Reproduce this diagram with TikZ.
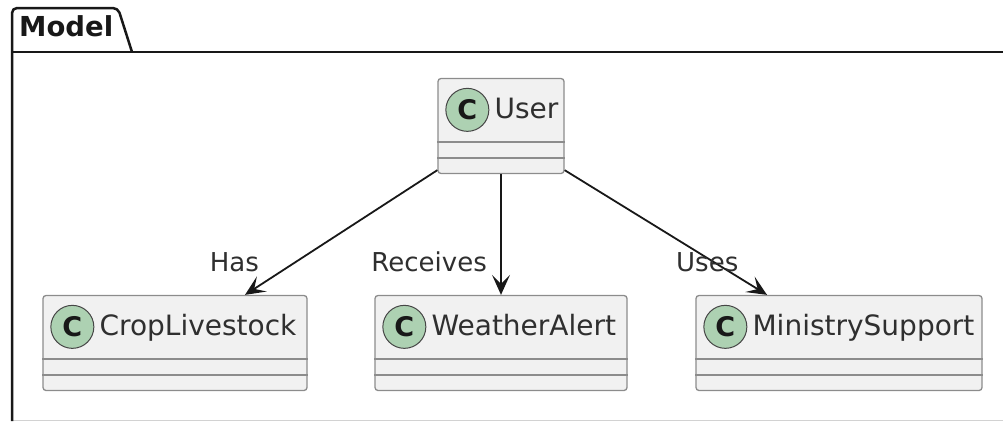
\documentclass[tikz,border=0pt]{standalone}
\usepackage{fontspec}
\setmainfont{DejaVu Sans}
\usetikzlibrary{arrows.meta,calc}
\definecolor{boxfill}{HTML}{F1F1F1}
\definecolor{boxline}{HTML}{8C8C8C}
\definecolor{cfill}{HTML}{ADD1B2}
\definecolor{ink}{HTML}{181818}
\tikzset{
  frame/.style={draw=ink, line width=2.5pt},
  classbox/.style={draw=boxline, fill=boxfill, line width=1.3pt, rounded corners=3pt, minimum height=95pt, inner sep=0pt},
  sepline/.style={draw=boxline, line width=1.3pt},
  spot/.style={circle, draw=ink!80, fill=cfill, line width=1pt, minimum size=43pt, inner sep=0pt, font=\bfseries\fontsize{27}{30}\selectfont, text=ink},
  cname/.style={anchor=base west, inner sep=0pt, text=ink!90, font=\fontsize{28}{32}\selectfont},
  lbl/.style={inner sep=0pt, text=ink!90, font=\fontsize{26}{30}\selectfont},
  arr/.style={draw=ink, line width=1.8pt, -{Stealth[length=20pt,width=18pt,inset=9pt]}}
}
\newcommand{\umlclass}[4]{%
  \node[classbox, minimum width=#3] (#1) at (#2) {};
  \draw[sepline] ($(#1.north west)+(0,64)$) -- ($(#1.north east)+(0,64)$);
  \draw[sepline] ($(#1.north west)+(0,80)$) -- ($(#1.north east)+(0,80)$);
  \node[spot] (#1-c) at ($(#1.north west)+(30,32)$) {C};
  \node[cname] (#1-t) at ($(#1.north west)+(57,41)$) {#4};
}
\begin{document}
\begin{tikzpicture}[x=1pt,y=-1pt]
\useasboundingbox (0,0) rectangle (1003,421);
% package frame
\draw[gray!35, line width=1pt] (12,420) -- (1003,420);
\draw[frame] (12,52) -- (1003,52);
\draw[frame, rounded corners=5pt] (12,421) -- (12,8) -- (118,8) -- (132,52);
\node[anchor=base west, inner sep=0pt, text=ink, font=\bfseries\fontsize{27.5}{30}\selectfont] (pkg) at (19,36) {Model};
% classes
\umlclass{user}{501,126}{126pt}{User}
\umlclass{crop}{175,343}{264pt}{CropLivestock}
\umlclass{weather}{501,343}{252pt}{WeatherAlert}
\umlclass{ministry}{839,343}{286pt}{MinistrySupport}
% connectors
\draw[arr] ($(user.south west)+(0,-4)$) -- ($(crop.north)+(70,0)$);
\draw[arr] (user.south) -- (weather.north);
\draw[arr] ($(user.south east)+(0,-4)$) -- ($(ministry.north)+(-72,0)$);
% labels
\node[lbl, anchor=base east] (has) at (259,271) {Has};
\node[lbl, anchor=base east] (receives) at (487,271) {Receives};
\node[lbl, anchor=base west] (uses) at (676,271) {Uses};
\end{tikzpicture}
\end{document}
